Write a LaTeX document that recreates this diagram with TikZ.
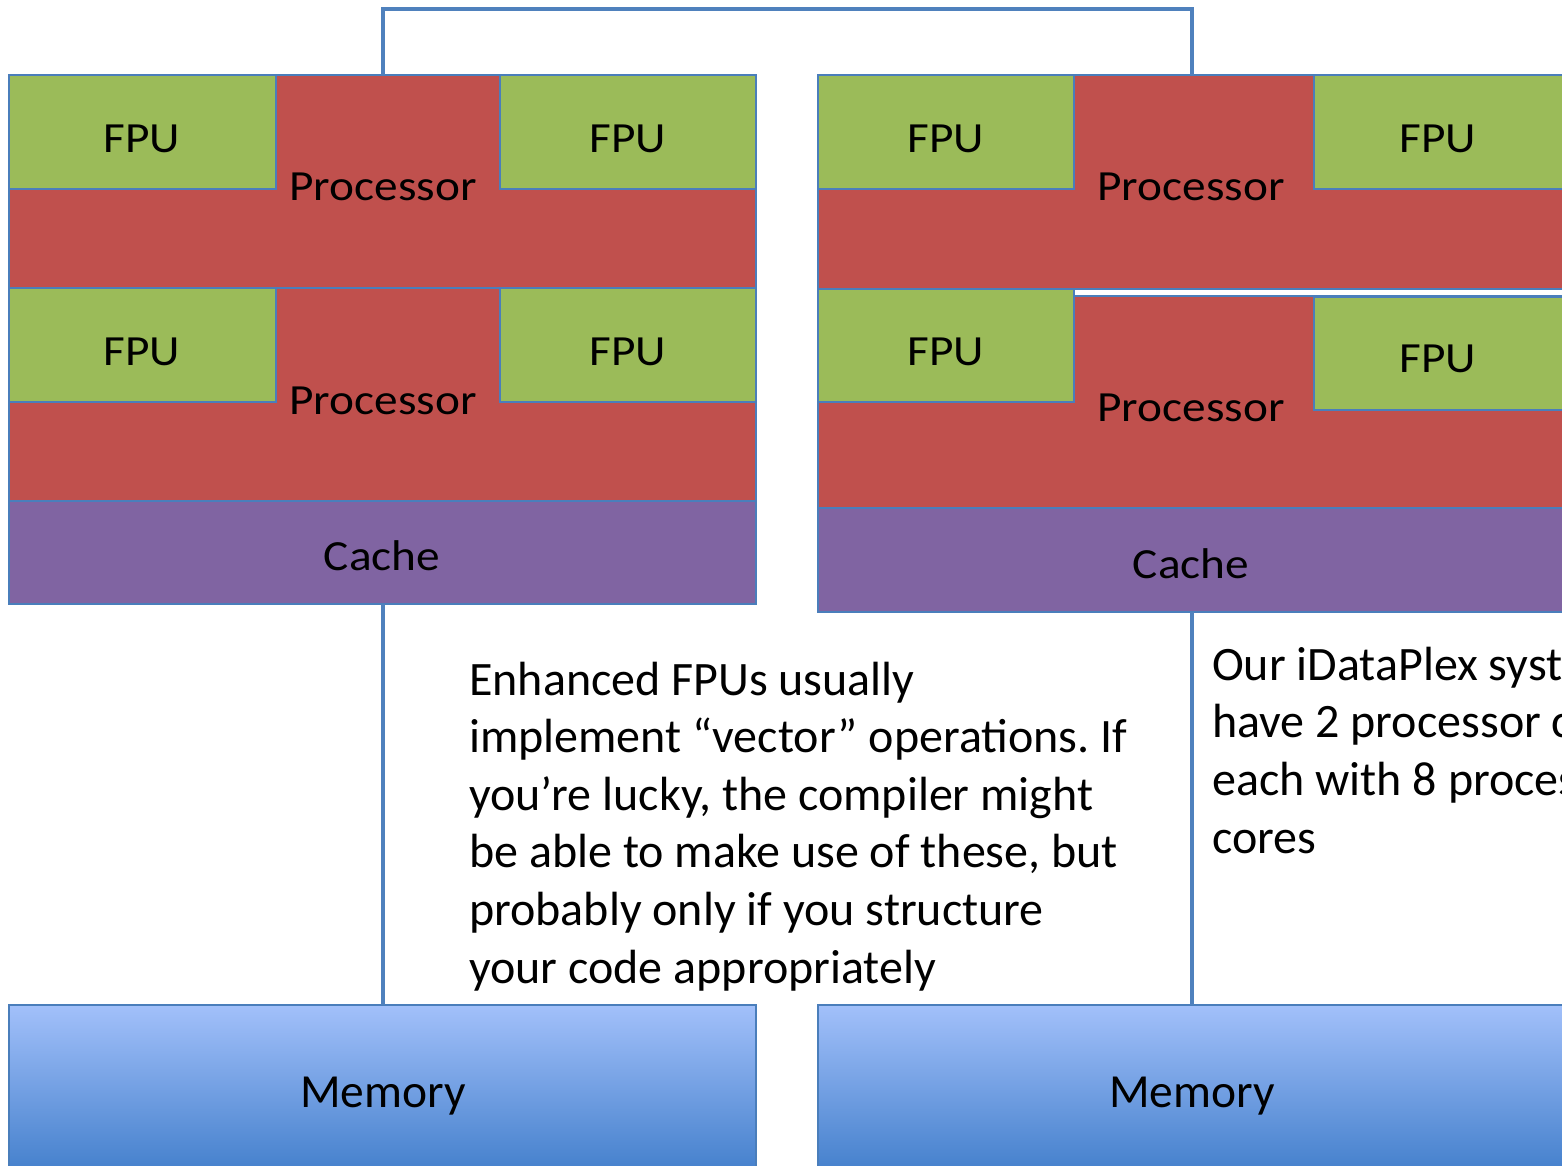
\documentclass[tikz,border=0pt]{standalone}
\usepackage{fontspec}
\setmainfont{Carlito}
\usetikzlibrary{fit}
\definecolor{procred}{HTML}{C0504D}
\definecolor{fpugreen}{HTML}{9BBB59}
\definecolor{cachepurple}{HTML}{8064A2}
\definecolor{edgeblue}{HTML}{4A7EBB}
\definecolor{wireblue}{HTML}{4F81BD}
\definecolor{memtop}{RGB}{162,192,250}
\definecolor{membot}{RGB}{68,128,204}

\begin{document}
\frenchspacing
\begin{tikzpicture}[x=1pt,y=-1pt,
  block/.style={draw=edgeblue, line width=2pt, inner sep=0pt, outer sep=0pt},
  procbox/.style={block, fill=procred},
  fpubox/.style={block, fill=fpugreen},
  cachebox/.style={block, fill=cachepurple},
  membox/.style={block, line width=1.5pt, top color=memtop, bottom color=membot},
  lbl/.style={font=\fontsize{43}{52}\selectfont, anchor=base, inner sep=0pt, xscale=1.1, transform shape},
  memlbl/.style={font=\fontsize{47.5}{56}\selectfont, anchor=base, inner sep=0pt},
  note/.style={font=\fontsize{48}{57.6}\selectfont, align=left, anchor=base west, inner sep=0pt},
  wire/.style={draw=wireblue, line width=4pt}]

\useasboundingbox (0,0) rectangle (1562,1166);
\clip (0,0) rectangle (1562,1166);

% ---- left node: two processors, cache, memory ----
\node[procbox, fit={(9,75) (756,288)}] (LP1) {};
\node[procbox, fit={(9,288) (756,501)}] (LP2) {};
\node[cachebox, fit={(9,501) (756,604)}] (LC) {};
\node[fpubox, fit={(9,75) (276,189)}] (LF1a) {};
\node[fpubox, fit={(500,75) (756,189)}] (LF1b) {};
\node[fpubox, fit={(9,288) (276,402)}] (LF2a) {};
\node[fpubox, fit={(500,288) (756,402)}] (LF2b) {};
\node[membox, fit={(9,1005) (756,1172)}] (LM) {};

\node[lbl] (tLF1a) at (142,153) {FPU};
\node[lbl] (tLF1b) at (628,153) {FPU};
\node[lbl] (tLP1) at (383,201) {Processor};
\node[lbl] (tLF2a) at (142,365) {FPU};
\node[lbl] (tLF2b) at (628,365) {FPU};
\node[lbl] (tLP2) at (383,414) {Processor};
\node[lbl] (tLC) at (382,570) {Cache};
\node[memlbl] (tLM) at (383,1107) {Memory};

% ---- right node ----
\node[procbox, fit={(818,75) (1566,289)}] (RP1) {};
\node[procbox, fit={(818,296) (1566,508)}] (RP2) {};
\node[cachebox, fit={(818,508) (1566,612)}] (RC) {};
\node[fpubox, fit={(818,75) (1074,189)}] (RF1a) {};
\node[fpubox, fit={(1314,75) (1566,189)}] (RF1b) {};
\node[fpubox, fit={(818,289) (1074,402)}] (RF2a) {};
\node[fpubox, fit={(1314,297) (1566,410)}] (RF2b) {};
\node[membox, fit={(818,1005) (1566,1172)}] (RM) {};

\node[lbl] (tRF1a) at (946,153) {FPU};
\node[lbl] (tRF1b) at (1438,153) {FPU};
\node[lbl] (tRP1) at (1191,201) {Processor};
\node[lbl] (tRF2a) at (946,365) {FPU};
\node[lbl] (tRF2b) at (1438,372) {FPU};
\node[lbl] (tRP2) at (1191,421) {Processor};
\node[lbl] (tRC) at (1191,578) {Cache};
\node[memlbl] (tRM) at (1192,1107) {Memory};

% ---- interconnect and memory links ----
\draw[wire] (LP1.north) -- ++(0,-66) -| (RP1.north);
\draw[wire] (LC.south) -- (LM.north);
\draw[wire] (RC.south) -- (RM.north);

% ---- notes (base anchor sits on the last line) ----
\node[note] (noteL) at (469,983) {Enhanced FPUs usually\\
implement “vector” operations. If\\
you’re lucky, the compiler might\\
be able to make use of these, but\\
probably only if you structure\\
your code appropriately};
\node[note] (noteR) at (1212,853) {Our iDataPlex systems\\
have 2 processor chips\\
each with 8 processing\\
cores};
\end{tikzpicture}
\end{document}
